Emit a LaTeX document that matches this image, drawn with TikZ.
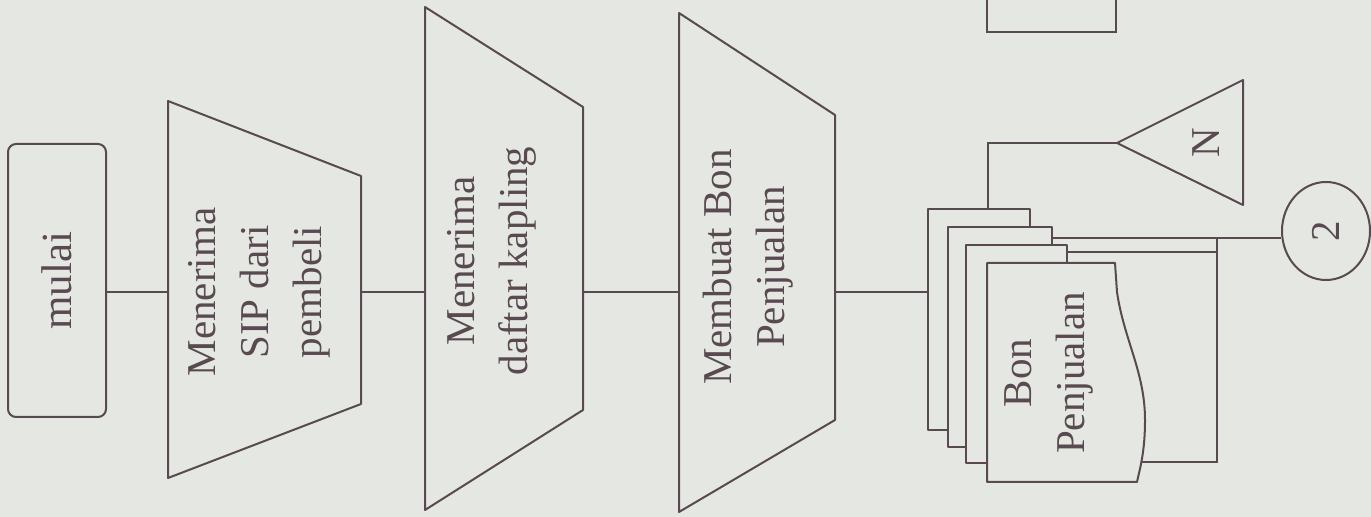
\documentclass[tikz,border=0pt]{standalone}
\usepackage{fontspec}
\setmainfont{Liberation Serif}
\usetikzlibrary{shapes.geometric}
\definecolor{paper}{RGB}{229,231,226}
\definecolor{ink}{RGB}{88,74,80}

\begin{document}
\begin{tikzpicture}[
    x=0.5pt, y=-0.5pt,
    conn/.style={draw=ink, line width=1pt},
    shp/.style={draw=ink, line width=1pt, fill=paper, line join=round},
    txt/.style={text=ink, rotate=90, align=center, font=\fontsize{20.5}{26.5}\selectfont},
    term/.style={shp, rounded corners=4pt, minimum width=49pt, minimum height=136.5pt,
                 inner sep=0pt, text=ink, font=\fontsize{21.5}{26.5}\selectfont}
]
\fill[paper] (0,0) rectangle (1371,517);
\useasboundingbox (0,0) rectangle (1371,517);

%% ── Start ───────────────────────────────────────────────────────
\node[term] (mulai) at (57,280.5) {\rotatebox{90}{mulai}};

%% ── Manual operations ───────────────────────────────────────────
\draw[shp] (168,101) -- (361,176) -- (361,404) -- (168,478) -- cycle;
\coordinate (s1w) at (168,292);
\coordinate (s1e) at (361,292);
\node[txt] (sip) at (259,292) {Menerima\\SIP dari\\pembeli};

\draw[shp] (425,7) -- (583,107) -- (583,410) -- (425,510) -- cycle;
\coordinate (s2w) at (425,292);
\coordinate (s2e) at (583,292);
\node[txt] (kapling) at (492,261) {Menerima\\daftar kapling};

\draw[shp] (679,13) -- (835,115) -- (835,420) -- (679,512) -- cycle;
\coordinate (s3w) at (679,292);
\coordinate (s3e) at (835,292);
\node[txt] (membuat) at (748,267) {Membuat Bon\\Penjualan};

%% ── Document stack ──────────────────────────────────────────────
\draw[shp] (928,209) rectangle (1030,430);
\draw[shp] (948,227) rectangle (1052,447);
\draw[shp] (966,245) rectangle (1067,463);
\draw[shp] (987,263) -- (1115,263) -- (1117,292)
    .. controls (1124,340) and (1145,372) .. (1145,420)
    .. controls (1145,452) and (1140,468) .. (1137,482)
    -- (987,482) -- cycle;
\node[txt] (bon) at (1049,373) {Bon\\Penjualan};
\coordinate (d1w) at (928,292);
\coordinate (d1n) at (988,209);
\coordinate (d2e) at (1052,238);
\coordinate (d3e) at (1067,252);
\coordinate (d4e) at (1142,462);
\coordinate (bend) at (1217,238);

%% ── Off-line file and connector ─────────────────────────────────
\draw[shp] (1117,143) coordinate (arsip) -- (1243,80) -- (1243,205) -- cycle;
\node[txt] (n) at (1206,143) {N};

\node[shp, ellipse, minimum width=44pt, minimum height=49pt, inner sep=0pt,
      text=ink, font=\fontsize{20.5}{26.5}\selectfont] (c2) at (1326,231) {\rotatebox{90}{2}};

%% part of a shape cut off at the top edge
\draw[conn] (987,0) -- (987,32) -- (1116,32) -- (1116,0);

%% ── Flow lines ──────────────────────────────────────────────────
\draw[conn] (mulai.east |- s1w) -- (s1w);
\draw[conn] (s1e) -- (s2w);
\draw[conn] (s2e) -- (s3w);
\draw[conn] (s3e) -- (d1w);

\draw[conn] (d1n) -- (d1n |- arsip) -- (arsip);
\draw[conn] (d2e) -- (d2e -| c2.west);
\draw[conn] (d3e) -- (d3e -| bend);
\draw[conn] (bend) -- (bend |- d4e) -- (d4e);

\end{tikzpicture}
\end{document}
